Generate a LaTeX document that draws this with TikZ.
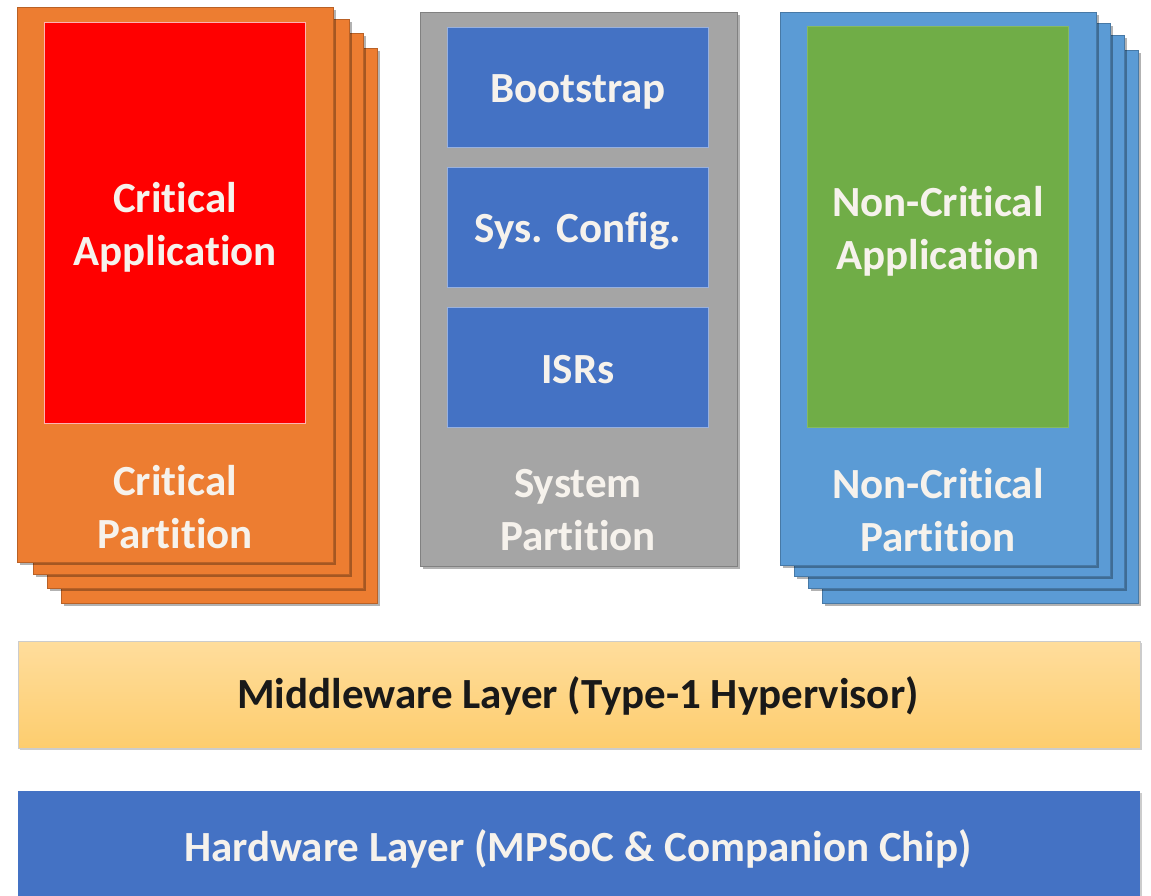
\documentclass[tikz,border=0pt]{standalone}
\usepackage{fontspec}
\setmainfont{Carlito}[Ligatures=NoCommon]
\usetikzlibrary{shadows}

\definecolor{critOrange}{HTML}{ED7D31}
\definecolor{critRed}{HTML}{FF0000}
\definecolor{sysGray}{HTML}{A5A5A5}
\definecolor{boxBlue}{HTML}{4472C4}
\definecolor{ncBlue}{HTML}{5B9BD5}
\definecolor{ncGreen}{HTML}{70AD47}
\definecolor{mwTop}{HTML}{FFDD9C}
\definecolor{mwBottom}{HTML}{FDCD6E}
\definecolor{labelWhite}{HTML}{F6F2EC}

\begin{document}
\begin{tikzpicture}[x=1pt,y=-1pt,
  bigfont/.style={font=\bfseries\fontsize{43}{53}\selectfont},
  card/.style={anchor=north west, inner sep=0pt, fill=#1, draw=#1!78!black,
    line width=0.8pt, minimum width=316pt, minimum height=555pt,
    drop shadow={shadow xshift=3pt, shadow yshift=-3pt, opacity=0.3, fill=black}},
  appbox/.style={anchor=north west, inner sep=0pt, fill=#1, draw=white!70!#1,
    line width=1pt, minimum width=261pt, minimum height=401pt},
  sysbox/.style={anchor=north west, inner sep=0pt, fill=boxBlue, draw=boxBlue!55!white,
    line width=1pt, minimum width=261pt, minimum height=120pt},
  lbl/.style={bigfont, text=labelWhite, align=center, inner sep=0pt},
  layer/.style={anchor=north west, inner sep=0pt, minimum width=1122pt,
    drop shadow={shadow xshift=1.5pt, shadow yshift=-1.5pt, opacity=0.2, fill=black}}
]
\useasboundingbox (0,0) rectangle (1151,895);

% critical partition stack
\node[card=critOrange] (crit4) at (61,48) {};
\node[card=critOrange] (crit3) at (47,33) {};
\node[card=critOrange] (crit2) at (33,19) {};
\node[card=critOrange] (crit1) at (17,7) {};
\node[appbox=critRed] (critapp) at (44,22) {};
\node[lbl] (critapptext) at (175,227) {Critical\\Application};
\node[lbl] (critparttext) at (175,507) {Critical\\Partition};

% system partition
\node[card=sysGray, minimum width=317pt, minimum height=554pt] (sys) at (420,12) {};
\node[sysbox] (boot) at (447,27) {};
\node[sysbox] (cfg) at (447,167) {};
\node[sysbox] (isr) at (447,307) {};
\node[lbl] (boottext) at (578,92) {Bootstrap};
\node[lbl] (cfgtext) at (578,231) {Sys. Config.};
\node[lbl] (isrtext) at (578,370) {ISRs};
\node[lbl] (systext) at (578,510) {System\\Partition};

% non-critical partition stack
\node[card=ncBlue, minimum height=553pt] (nc4) at (822,50) {};
\node[card=ncBlue, minimum height=553pt] (nc3) at (808,35) {};
\node[card=ncBlue, minimum height=553pt] (nc2) at (794,23) {};
\node[card=ncBlue, minimum height=553pt] (nc1) at (780,12) {};
\node[appbox=ncGreen, draw=ncGreen!85!white] (ncapp) at (807,26) {};
\node[lbl] (ncapptext) at (938,231) {Non-Critical\\Application};
\node[lbl] (ncparttext) at (938,510) {Non-Critical\\Partition};

% middleware and hardware layers
\node[layer, minimum height=107pt, top color=mwTop, bottom color=mwBottom,
  draw=black!20, line width=0.5pt] (mw) at (18,641) {};
\node[bigfont, text=black!90, inner sep=0pt] (mwtext) at (578,696)
  {Middleware Layer (Type-1 Hypervisor)};
\node[layer, minimum height=110pt, fill=boxBlue] (hw) at (18,791) {};
\node[bigfont, text=labelWhite, inner sep=0pt] (hwtext) at (578,849)
  {Hardware Layer (MPSoC \& Companion Chip)};
\end{tikzpicture}
\end{document}
